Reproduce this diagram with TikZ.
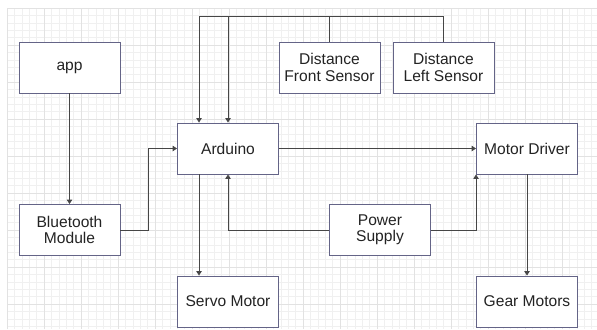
\documentclass[tikz,border=0pt]{standalone}
\usepackage{fontspec}
\setmainfont{Liberation Sans}
\usepackage{tikz}
\usetikzlibrary{arrows.meta, positioning, calc}
\definecolor{boxborder}{RGB}{100, 100, 135}
\definecolor{linkcolor}{RGB}{70, 70, 70}
\definecolor{gridminor}{RGB}{240, 240, 240}
\definecolor{gridmajor}{RGB}{226, 226, 226}
\definecolor{textcolor}{RGB}{35, 35, 35}

\begin{document}
\begin{tikzpicture}[
    x=0.03cm, y=-0.03cm,
    font=\fontsize{13.3}{14}\selectfont,
    % Define styles
    box/.style = {rectangle, draw=boxborder, fill=white, line width=0.8pt, text=textcolor, align=center, minimum width=3.03cm, minimum height=1.53cm, inner sep=0pt},
    arrow/.style = {line width=0.7pt, draw=linkcolor, -{Triangle[length=1.3mm, width=1.6mm]}},
    link/.style = {line width=0.7pt, draw=linkcolor}
]

% Canvas and grid
\useasboundingbox (0,0) rectangle (597,329);
\fill[white] (0,0) rectangle (597,329);
\begin{scope}[shift={(7,8)}]
\draw[gridminor, line width=0.5pt, step=0.222cm] (0,0) grid (590,321);
\draw[gridmajor, line width=0.6pt, step=1.11cm] (0,0) grid (590,321);
\end{scope}

% Nodes
\node [box] (app) at (69.5,67.5) {app};
\node [box] (front) at (329.5,67.5) {Distance\\Front Sensor};
\node [box] (left) at (443.5,67.5) {Distance\\Left Sensor};
\node [box] (arduino) at (228,148.5) {Arduino};
\node [box] (driver) at (527,148.5) {Motor Driver};
\node [box] (bluetooth) at (69.5,230) {Bluetooth\\Module};
\node [box] (power) at (380,230) {Power\\Supply};
\node [box] (servo) at (228,301.5) {Servo Motor};
\node [box] (gear) at (527,301.5) {Gear Motors};

\coordinate (top) at (0,16);
\coordinate (ardleft) at ($(arduino.north)+(-29,0)$);
\coordinate (ardservo) at ($(arduino.south)+(-29,0)$);

% Arrows
\draw [arrow] (app) -- (bluetooth);
\draw [arrow] (bluetooth.east) -- ++(28,0) |- (arduino.west);
\draw [arrow] (front.north) |- (top -| arduino.north) -- (arduino.north);
\draw [arrow] (left.north) |- (top -| ardleft) -- (ardleft);
\draw [arrow] (arduino) -- (driver);
\draw [arrow] (ardservo) -- (servo.north -| ardservo);
\draw [arrow] (power.west) -| (arduino.south);
\draw [arrow] (power.east) -| (driver.south west);
\draw [arrow] (driver) -- (gear);

\end{tikzpicture}
\end{document}
